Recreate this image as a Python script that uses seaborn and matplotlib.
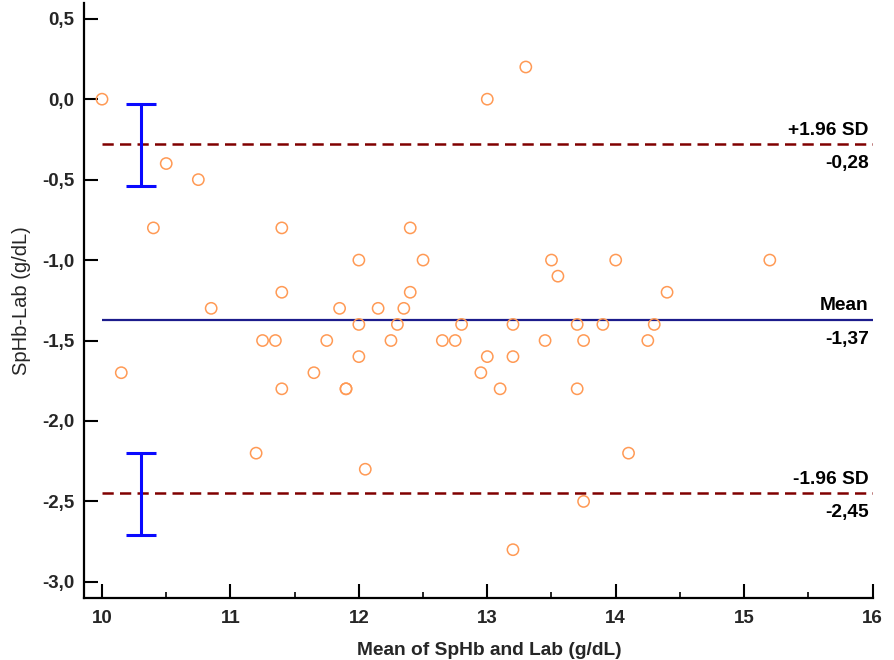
import numpy as np
import pandas as pd
import matplotlib
matplotlib.use('Agg')
import matplotlib.pyplot as plt
import seaborn as sns
from matplotlib.ticker import MultipleLocator, FuncFormatter

# Values
mean_vals = [10.0, 10.5, 10.75, 10.4, 11.4, 12.0, 11.4, 10.85, 11.85, 12.15,
             12.0, 13.3, 13.0, 12.4, 12.5, 13.5, 13.55, 14.0, 14.4, 12.4,
             12.35, 12.3, 12.8, 13.2, 13.7, 13.9, 14.3, 15.2, 11.25, 11.35,
             11.75, 10.15, 11.65, 12.0, 11.4, 11.9, 11.2, 12.05, 12.25, 12.65,
             12.75, 13.45, 13.75, 14.25, 13.0, 13.2, 12.95, 13.1, 13.7, 14.1,
             13.75, 13.2, 11.9]
diff_vals = [0.0, -0.4, -0.5, -0.8, -0.8, -1.0, -1.2, -1.3, -1.3, -1.3,
             -1.4, 0.2, 0.0, -0.8, -1.0, -1.0, -1.1, -1.0, -1.2, -1.2,
             -1.3, -1.4, -1.4, -1.4, -1.4, -1.4, -1.4, -1.0, -1.5, -1.5,
             -1.5, -1.7, -1.7, -1.6, -1.8, -1.8, -2.2, -2.3, -1.5, -1.5,
             -1.5, -1.5, -1.5, -1.5, -1.6, -1.6, -1.7, -1.8, -1.8, -2.2,
             -2.5, -2.8, -1.8]

bias = -1.37
upper_loa = -0.28
lower_loa = -2.45
# confidence intervals of the limits of agreement
ci_x = 10.3
upper_ci = [-0.03, -0.54]
lower_ci = [-2.20, -2.71]

df = pd.DataFrame({'Mean': mean_vals, 'Diff': diff_vals})

sns.set_style('white')
plt.rcParams['font.family'] = ['Liberation Sans', 'DejaVu Sans']
plt.rcParams['axes.unicode_minus'] = False

fig = plt.figure(figsize=(8.94, 6.6), dpi=100)
ax = fig.add_axes([0.094, 0.094, 0.882, 0.902])

sns.scatterplot(data=df, x='Mean', y='Diff', ax=ax, marker='o', s=66,
                facecolor='none', edgecolor='#ff9a55', linewidth=1.1, zorder=3)

# mean and limits of agreement
ax.hlines(bias, 10, 16, color='#1c1c8c', lw=1.6, zorder=2)
ax.hlines([upper_loa, lower_loa], 10, 16, color='#800000', lw=1.8,
          linestyles=(0, (4.5, 2.5)), zorder=2)

# CI error bars
for lo_hi in (upper_ci, lower_ci):
    ax.errorbar(ci_x, np.mean(lo_hi), yerr=abs(lo_hi[0] - lo_hi[1]) / 2,
                fmt='none', ecolor='#0a0aff', elinewidth=2.2, capsize=10.5,
                capthick=2.2, zorder=2)

txt = dict(ha='right', fontsize=13.8, fontweight='bold', color='black')
for yv, label in [(upper_loa, '+1.96 SD'), (bias, 'Mean'), (lower_loa, '-1.96 SD')]:
    ax.annotate(label, (15.97, yv), xytext=(0, 4), textcoords='offset points',
                va='bottom', **txt)
    ax.annotate(f'{yv:.2f}'.replace('.', ','), (15.97, yv), xytext=(0, -8),
                textcoords='offset points', va='top', **txt)

ax.set_xlim(9.86, 16)
ax.set_ylim(-3.1, 0.6)
ax.xaxis.set_major_locator(MultipleLocator(1))
ax.xaxis.set_minor_locator(MultipleLocator(0.5))
ax.yaxis.set_major_locator(MultipleLocator(0.5))
ax.yaxis.set_major_formatter(FuncFormatter(lambda v, p: f'{v:.1f}'.replace('.', ',')))
ax.xaxis.set_major_formatter(FuncFormatter(lambda v, p: f'{v:.0f}'))

ax.tick_params(axis='both', which='major', direction='in', length=10, width=1.5,
               labelsize=13.5, pad=7, color='black')
ax.tick_params(axis='x', which='major', pad=8.5)
ax.tick_params(axis='x', which='minor', direction='in', length=4.5, width=1.2,
               color='black')
ax.tick_params(axis='x', which='both', bottom=True)
ax.tick_params(axis='y', which='both', left=True)
for lbl in ax.get_xticklabels() + ax.get_yticklabels():
    lbl.set_fontweight('bold')

for side in ['top', 'right']:
    ax.spines[side].set_visible(False)
for side in ['left', 'bottom']:
    ax.spines[side].set_color('black')
    ax.spines[side].set_linewidth(1.6)

ax.set_xlabel('Mean of SpHb and Lab (g/dL)', fontsize=13.8, fontweight='bold',
              labelpad=11, x=0.514)
ax.set_ylabel('SpHb-Lab (g/dL)', fontsize=14.5, labelpad=8)

fig.savefig('out.png', dpi=100)
